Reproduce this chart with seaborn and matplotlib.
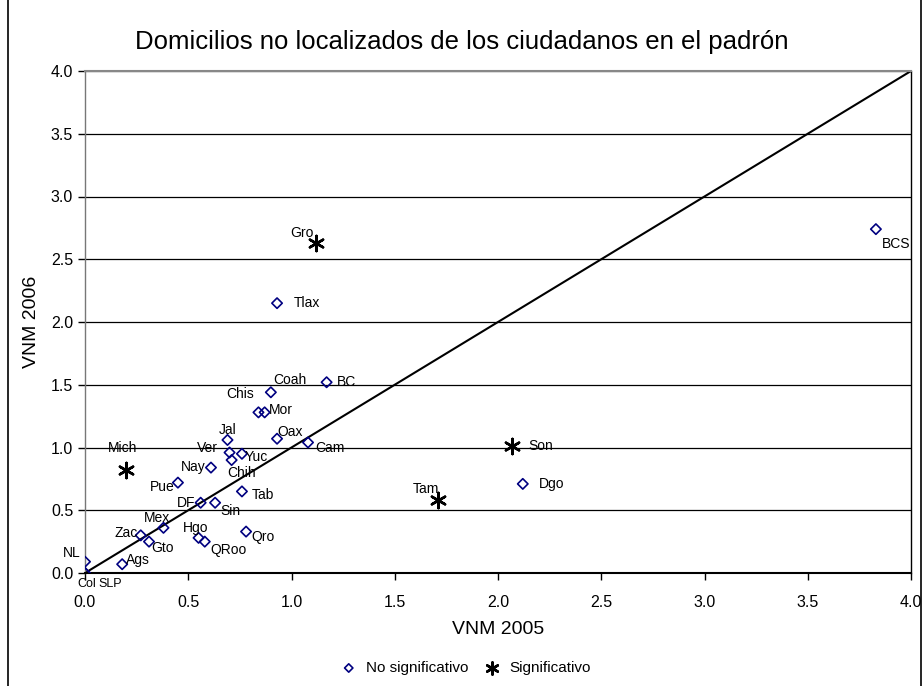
import pandas as pd
import matplotlib.pyplot as plt
import seaborn as sns
from matplotlib.lines import Line2D

# VNM por entidad
estados = ["NL", "Col", "SLP", "Ags", "Zac", "Gto", "Mex", "Hgo", "QRoo", "Qro",
           "DF", "Sin", "Pue", "Tab", "Nay", "Chih", "Ver", "Yuc", "Jal", "Oax",
           "Cam", "Chis", "Mor", "Coah", "BC", "Tlax", "BCS", "Dgo",
           "Mich", "Gro", "Son", "Tam"]
vnm_2005 = [0.00, 0.00, 0.00, 0.18, 0.27, 0.31, 0.38, 0.55, 0.58, 0.78,
            0.56, 0.63, 0.45, 0.76, 0.61, 0.71, 0.70, 0.76, 0.69, 0.93,
            1.08, 0.84, 0.87, 0.90, 1.17, 0.93, 3.83, 2.12,
            0.20, 1.12, 2.07, 1.71]
vnm_2006 = [0.09, 0.00, 0.00, 0.07, 0.30, 0.25, 0.36, 0.28, 0.25, 0.33,
            0.56, 0.56, 0.72, 0.65, 0.84, 0.90, 0.96, 0.95, 1.06, 1.07,
            1.04, 1.28, 1.28, 1.44, 1.52, 2.15, 2.74, 0.71,
            0.82, 2.63, 1.01, 0.58]
significativo = [False] * 28 + [True] * 4

df = pd.DataFrame({"estado": estados, "x": vnm_2005, "y": vnm_2006, "sig": significativo})

# desplazamiento de etiquetas (pixeles) y alineacion
label_pos = {
    "NL": (-4, 9, "right"), "Col": (-8, -11, "left"), "SLP": (13, -11, "left"),
    "Ags": (4, 4, "left"), "Zac": (-3, 2, "right"), "Gto": (2, -6, "left"),
    "Mex": (-6, 10, "center"), "Hgo": (-3, 10, "center"), "QRoo": (6, -8, "left"),
    "Qro": (5, -5, "left"), "DF": (-5, 0, "right"), "Sin": (5, -8, "left"),
    "Pue": (-3, -4, "right"), "Tab": (10, -4, "left"), "Nay": (-5, 1, "right"),
    "Chih": (-4, -13, "left"), "Ver": (-12, 5, "right"), "Yuc": (3, -3, "left"),
    "Jal": (0, 10, "center"), "Oax": (0, 7, "left"), "Cam": (7, -6, "left"),
    "Chis": (-4, 18, "right"), "Mor": (4, 2, "left"), "Coah": (2, 12, "left"),
    "BC": (10, 0, "left"), "Tlax": (17, 0, "left"), "BCS": (6, -15, "left"),
    "Dgo": (16, 0, "left"), "Mich": (-4, 22, "center"), "Gro": (-26, 10, "left"),
    "Son": (16, 0, "left"), "Tam": (-25, 11, "left"),
}

sns.set_style("white")
plt.rcParams["font.family"] = ["Liberation Sans", "DejaVu Sans"]
plt.rcParams["text.color"] = "black"
plt.rcParams["axes.labelcolor"] = "black"
plt.rcParams["xtick.color"] = "black"
plt.rcParams["ytick.color"] = "black"

fig = plt.figure(figsize=(9.24, 6.86), dpi=100)
ax = fig.add_axes([85 / 924, 1 - 573 / 686, 826 / 924, 502 / 686])

# marco exterior
for xb in (8 / 924, 921 / 924):
    fig.add_artist(Line2D([xb, xb], [0, 1], color="black", lw=1.2, transform=fig.transFigure))

ax.plot([0, 4], [0, 4], color="black", lw=1.5, zorder=1)

sns.scatterplot(data=df[~df["sig"]], x="x", y="y", marker="D", s=28,
                facecolor="none", edgecolor="#000080", linewidth=1.2,
                label="No significativo", ax=ax, zorder=3)
sns.scatterplot(data=df[df["sig"]], x="x", y="y", marker=(6, 2, 0), s=120,
                color="black", linewidth=1.8, label="Significativo", ax=ax, zorder=3)

for _, r in df.iterrows():
    dx, dy, ha = label_pos[r["estado"]]
    fs = 9 if r["estado"] in ("Col", "SLP") else 10
    ax.annotate(r["estado"], (r["x"], r["y"]), xytext=(dx, dy), textcoords="offset pixels",
                ha=ha, va="center", fontsize=fs, color="black")

ax.set_xlim(0, 4)
ax.set_ylim(0, 4)
ticks = [0, 0.5, 1.0, 1.5, 2.0, 2.5, 3.0, 3.5, 4.0]
ax.set_xticks(ticks)
ax.set_yticks(ticks)
ax.set_xticklabels([f"{t:.1f}" for t in ticks])
ax.set_yticklabels([f"{t:.1f}" for t in ticks])
ax.tick_params(axis="both", direction="out", length=5, width=1, color="black",
               labelsize=11.5, bottom=True, left=True)
ax.tick_params(axis="x", pad=11)
ax.yaxis.grid(True, color="black", lw=0.9)
ax.xaxis.grid(False)
for s in ax.spines.values():
    s.set_color("black")
    s.set_linewidth(1)
ax.spines["left"].set_color("#777777")
ax.spines["top"].set_color("#888888")
ax.spines["top"].set_linewidth(1.5)
ax.spines["bottom"].set_linewidth(1.5)

ax.set_xlabel("VNM 2005", fontsize=14, labelpad=8)
ax.set_ylabel("VNM 2006", fontsize=14, labelpad=8)
fig.suptitle("Domicilios no localizados de los ciudadanos en el padrón",
             fontsize=18.5, y=1 - 42 / 686, va="center")

ax.legend_.remove()
h, l = ax.get_legend_handles_labels()
fig.legend(h, l, loc="center", bbox_to_anchor=(0.5, 1 - 668 / 686), ncol=2,
           frameon=False, fontsize=11, handletextpad=0.1, columnspacing=0.6,
           markerscale=0.8)

plt.savefig("out.png", dpi=100)
